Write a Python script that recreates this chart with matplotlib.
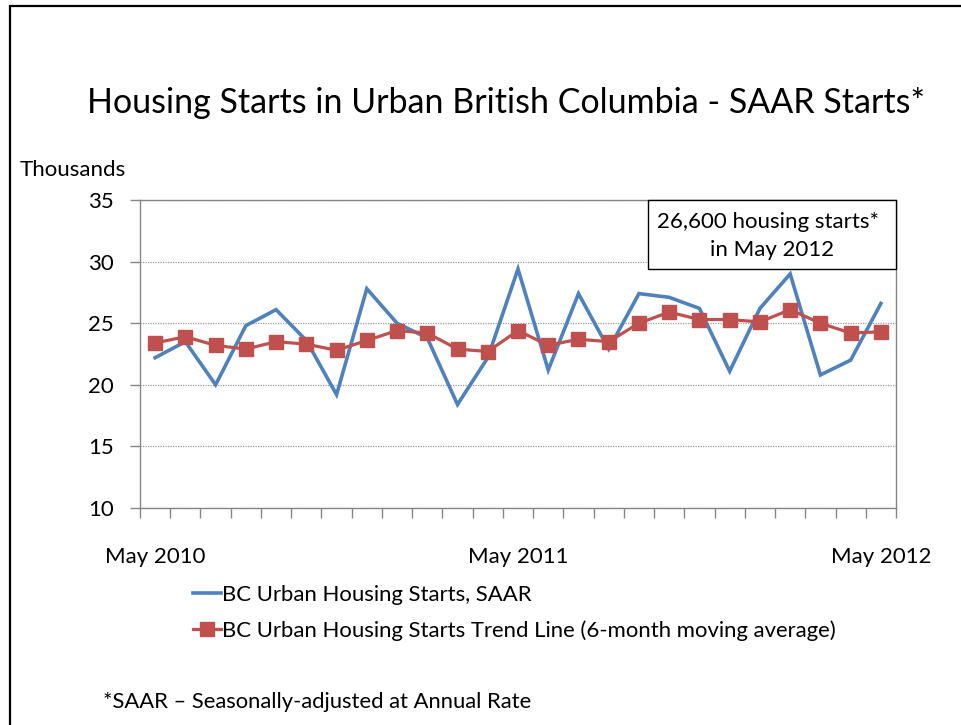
import matplotlib
matplotlib.use("Agg")
import matplotlib.pyplot as plt
from matplotlib.lines import Line2D
from matplotlib.patches import Rectangle

# monthly values, May 2010 .. May 2012 (thousands of units)
months = ["May 2010", "Jun 2010", "Jul 2010", "Aug 2010", "Sep 2010", "Oct 2010",
          "Nov 2010", "Dec 2010", "Jan 2011", "Feb 2011", "Mar 2011", "Apr 2011",
          "May 2011", "Jun 2011", "Jul 2011", "Aug 2011", "Sep 2011", "Oct 2011",
          "Nov 2011", "Dec 2011", "Jan 2012", "Feb 2012", "Mar 2012", "Apr 2012",
          "May 2012"]
saar = [22.2, 23.5, 20.0, 24.8, 26.1, 23.6, 19.2, 27.8, 25.0, 23.8, 18.4, 22.2,
        29.4, 21.2, 27.4, 22.9, 27.4, 27.1, 26.2, 21.1, 26.2, 29.0, 20.8, 22.0,
        26.6]
trend = [23.4, 23.9, 23.2, 22.9, 23.5, 23.3, 22.8, 23.6, 24.4, 24.2, 22.9, 22.7,
         24.4, 23.2, 23.7, 23.5, 25.0, 25.9, 25.3, 25.3, 25.1, 26.1, 25.0, 24.2,
         24.3]
label_months = ["May 2010", "May 2011", "May 2012"]
y_ticks = [10, 15, 20, 25, 30, 35]

BLUE = "#4F81BD"
RED = "#C0504D"
GRAY = "#868686"
FONT = ["Lato", "DejaVu Sans"]

plt.rcParams["font.family"] = FONT

W, H = 961, 725
fig = plt.figure(figsize=(W / 100, H / 100), dpi=100)

# slide border
fig.patches.append(Rectangle((10 / W, -0.1), 1.2, 1 - 6 / H + 0.1,
                             transform=fig.transFigure, fill=False,
                             edgecolor="black", linewidth=1.6))

ax = fig.add_axes([140 / W, (H - 508) / H, 756 / W, 308 / H])
x = list(range(len(months)))

ax.plot(x, saar, color=BLUE, linewidth=2.6, solid_joinstyle="miter",
        label="BC Urban Housing Starts, SAAR")
ax.plot(x, trend, color=RED, linewidth=2.3, marker="s", markersize=9.5,
        label="BC Urban Housing Starts Trend Line (6-month moving average)")

ax.set_xlim(-0.5, len(months) - 0.5)
ax.set_ylim(10, 35)
ax.set_yticks(y_ticks)
ax.grid(axis="y", color="#9a9a9a", linestyle=(0, (1, 1)), linewidth=0.9)
ax.set_axisbelow(True)

ax.set_xticks([months.index(m) for m in label_months])
ax.set_xticklabels(label_months)
ax.set_xticks([i - 0.5 for i in range(len(months) + 1)], minor=True)
ax.tick_params(axis="x", which="major", length=0, pad=28, labelsize=16)
ax.tick_params(axis="x", which="minor", length=7, width=1, color=GRAY, direction="out")
ax.tick_params(axis="y", length=7, width=1, color=GRAY, pad=12, labelsize=16)

for side in ["left", "bottom", "right", "top"]:
    ax.spines[side].set_color(GRAY)
    ax.spines[side].set_linewidth(1)

# callout box
box_left = (648 - 140) / 756
box_bottom = (508 - 269) / 308
ax.add_patch(Rectangle((box_left, box_bottom), 1 - box_left, 1 - box_bottom,
                       transform=ax.transAxes, facecolor="white", edgecolor="black",
                       linewidth=1, zorder=5, clip_on=False))
ax.text((768 - 140) / 756, (508 - 222) / 308, "26,600 housing starts*",
        transform=ax.transAxes, ha="center", va="center", fontsize=16, zorder=6)
ax.text((772 - 140) / 756, (508 - 250) / 308, "in May 2012",
        transform=ax.transAxes, ha="center", va="center", fontsize=16, zorder=6)

fig.text(506 / W, 1 - 103 / H, "Housing Starts in Urban British Columbia - SAAR Starts*",
         ha="center", va="center", fontsize=24.5)
fig.text(20 / W, 1 - 170 / H, "Thousands", ha="left", va="center", fontsize=16)

handles = [Line2D([], [], color=BLUE, linewidth=2.6),
           Line2D([], [], color=RED, linewidth=2.3, marker="s", markersize=9.5)]
fig.legend(handles,
           ["BC Urban Housing Starts, SAAR",
            "BC Urban Housing Starts Trend Line (6-month moving average)"],
           loc="upper left", bbox_to_anchor=(193 / W, 1 - 585 / H), frameon=False,
           fontsize=15.9, handlelength=1.25, handletextpad=0.05, labelspacing=0.68,
           borderpad=0, borderaxespad=0)

fig.text(103 / W, 1 - 702 / H, "*SAAR \u2013 Seasonally-adjusted at Annual Rate",
         ha="left", va="center", fontsize=15.8)

fig.savefig("out.png", dpi=100)
